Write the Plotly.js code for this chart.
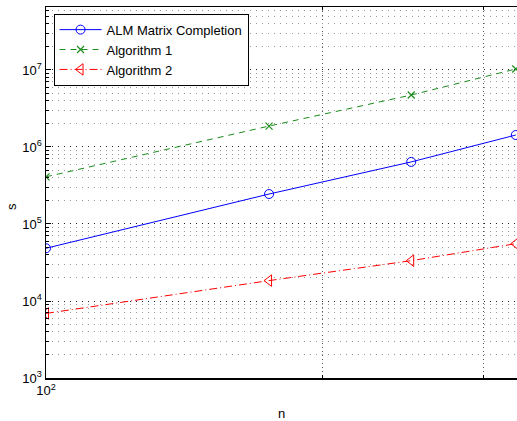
<!DOCTYPE html>
<html><head><meta charset="utf-8">
<script src="https://cdn.plot.ly/plotly-3.0.1.min.js"></script>
<style>html,body{margin:0;padding:0;background:#fff;}#chart{width:517px;height:421px;}</style>
</head><body><div id="chart"></div>
<script>
const nValues = [100, 175, 250, 325];
const almValues = [48400, 245000, 640000, 1430000];
const alg1Values = [410000, 1870000, 4730000, 10300000];
const alg2Values = [6900, 18400, 33400, 55500];
const seriesNames = ['ALM Matrix Completion', 'Algorithm 1', 'Algorithm 2'];
const xTickVals = [100];
const xTickText = ['10<sup>2</sup>'];
const xMinorVals = [200, 300];
const yTickVals = [1e3, 1e4, 1e5, 1e6, 1e7];
const yTickText = ['10<sup>3</sup>', '10<sup>4</sup>', '10<sup>5</sup>', '10<sup>6</sup>', '10<sup>7</sup>'];
const yMinorVals = [];
for (let e = 3; e <= 7; e++) for (let m = 2; m <= 9; m++) yMinorVals.push(m * Math.pow(10, e));

const font = {family: 'Liberation Sans, Arial, sans-serif', size: 13, color: '#000'};
const traces = [
  {x: nValues, y: almValues, name: seriesNames[0], mode: 'lines+markers',
   line: {color: '#0000ff', width: 1, dash: 'solid'},
   marker: {symbol: 'circle-open', size: 9, color: '#0000ff', line: {width: 1}}},
  {x: nValues, y: alg1Values, name: seriesNames[1], mode: 'lines+markers',
   line: {color: '#1a8c1a', width: 1, dash: '6px,5px'},
   marker: {symbol: 'x-thin-open', size: 7, color: '#1a8c1a', line: {width: 1.2, color: '#1a8c1a'}}},
  {x: nValues, y: alg2Values, name: seriesNames[2], mode: 'lines+markers',
   line: {color: '#ff0000', width: 1, dash: '8px,3px,1px,3px'},
   marker: {symbol: 'triangle-left-open', size: 10, color: '#ff0000', line: {width: 1}}}
];
const layout = {
  width: 517, height: 421,
  margin: {l: 46, r: 0, t: 7, b: 43},
  paper_bgcolor: '#fff', plot_bgcolor: '#fff',
  font: font,
  showlegend: true,
  legend: {x: 0.016, y: 0.982, xanchor: 'left', yanchor: 'top',
           bgcolor: '#fff', bordercolor: '#000', borderwidth: 1,
           font: {family: font.family, size: 13, color: '#000'},
           tracegroupgap: 0, itemwidth: 42},
  xaxis: {type: 'log', range: [Math.log10(100), Math.log10(326)],
          tickmode: 'array', tickvals: xTickVals, ticktext: xTickText,
          ticks: 'inside', ticklen: 5, tickcolor: '#000',
          showline: true, linecolor: '#000', linewidth: 1.5, mirror: 'ticks',
          showgrid: true, gridcolor: '#333', griddash: '1px,3px', gridwidth: 1,
          minor: {tickmode: 'array', tickvals: xMinorVals, ticks: 'inside', ticklen: 3, tickcolor: '#000',
                  showgrid: true, gridcolor: '#555', griddash: '1px,3px', gridwidth: 1},
          zeroline: false, tickfont: font,
          title: {text: 'n', font: font, standoff: 12}},
  yaxis: {type: 'log', range: [3, 7.818],
          tickmode: 'array', tickvals: yTickVals, ticktext: yTickText,
          ticks: 'inside', ticklen: 5, tickcolor: '#000',
          showline: true, linecolor: '#000', linewidth: 1.5, mirror: false,
          showgrid: true, gridcolor: '#222', griddash: '1px,5px', gridwidth: 1,
          minor: {tickmode: 'array', tickvals: yMinorVals, ticks: 'inside', ticklen: 3, tickcolor: '#000',
                  showgrid: true, gridcolor: '#999', griddash: '1px,5px', gridwidth: 1},
          zeroline: false, tickfont: font,
          title: {text: ''}},
  annotations: [
    {text: 's', xref: 'paper', yref: 'paper', x: -0.072, y: 0.461,
     xanchor: 'center', yanchor: 'middle', showarrow: false, textangle: -90, font: font}
  ]
};
Plotly.newPlot('chart', traces, layout, {displayModeBar: false, staticPlot: true});
</script>
</body></html>
